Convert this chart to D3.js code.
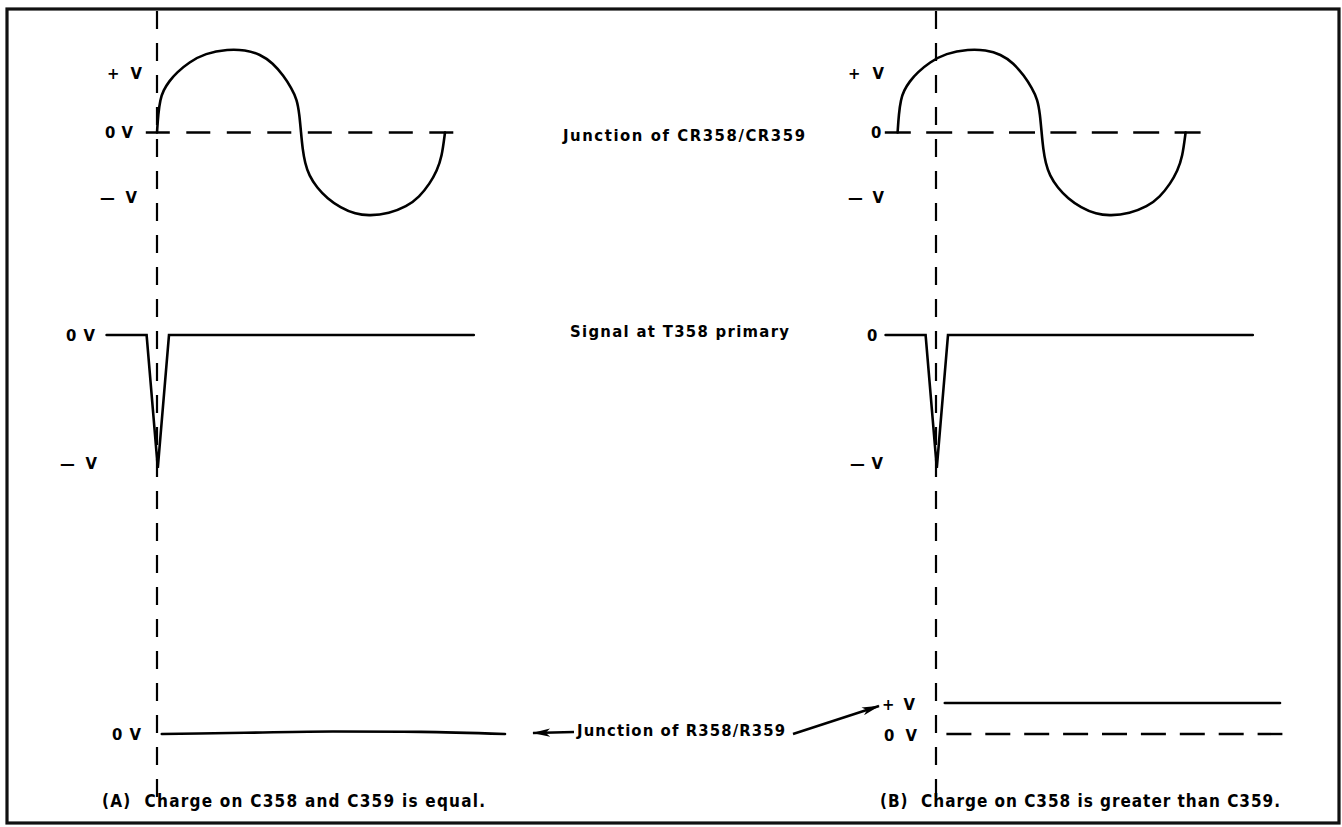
<!DOCTYPE html>
<html><head><meta charset="utf-8">
<script src="https://cdn.jsdelivr.net/npm/d3@7"></script>
<style>
body{margin:0;background:#fff}
svg{display:block}
text{font-family:"DejaVu Sans Condensed","DejaVu Sans",sans-serif;font-stretch:condensed;font-weight:700;fill:#000;font-size:16.5px;white-space:pre;font-variant-ligatures:none}
</style>
</head><body><svg id="c" width="1342" height="827"></svg>
<script>
// ---------- DATA ----------
// One cycle of the waveform at the junction of CR358/CR359 (phase in degrees, volts in units of V)
const sinePhase = [0,0,1.5,4,8,15,25,40,60,89,110,129,145,158,168,175,178,180,182,185,190,200,213,229,248,266,290,312,328,341,350,356,360,360];
const sineVolts = [0,0,0.22,0.4,0.51,0.62,0.73,0.85,0.96,1.01,1,0.95,0.84,0.69,0.54,0.4,0.22,0,-0.2,-0.37,-0.52,-0.67,-0.8,-0.91,-0.99,-1.01,-0.98,-0.9,-0.78,-0.62,-0.46,-0.3,0,0];
// time (deg, relative to the pulse instant) at which the drawn cycle starts, panel A and B
const sineStart = [0, -48];
// extent of the 0 V dashed reference of the top trace, panel A and B
const zeroRefA = [-14, 376];
const zeroRefB = [-64, 334];
// Signal at T358 primary (time deg, volts)
const pulseTime = [-63, -13, 1, 15, 396];
const pulseVolts = [0, 0, -1, 0, 0];
// Junction of R358/R359
const junctionATime = [6, 110, 220, 330, 435];
const junctionAVolts = [0, 0.04, 0.08, 0.07, 0];
const junctionBTime = [11, 430];
const junctionBVolts = [1, 1];
const junctionBRef = [13, 433];
// level labels
const topLabelsA = ["+ V", "0 V", "\u2014 V"];
const topLabelsB = ["+ V", "0", "\u2014 V"];
const topLabelVolts = [0.72, 0, -0.78];
const midLabelsA = ["0 V", "\u2014 V"];
const midLabelsB = ["0", "\u2014 V"];
const midLabelVolts = [0, -0.96];
const botLabelsA = ["0 V"];
const botLabelVoltsA = [0];
const botLabelsB = ["+ V", "0 V"];
const botLabelVoltsB = [0.95, -0.05];
const traceNames = ["Junction of CR358/CR359", "Signal at T358 primary", "Junction of R358/R359"];
const captions = ["(A)  Charge on C358 and C359 is equal.", "(B)  Charge on C358 is greater than C359."];

// ---------- LAYOUT ----------
const svg = d3.select("#c");
const pxPerDeg = 0.8;
const panels = [
  {vline: 157, start: sineStart[0], zero: zeroRefA, top: topLabelsA, mid: midLabelsA,
   topX: [107, 105, 100], topW: [35, 28, 37], midX: [66, 60], midW: [29, 37]},
  {vline: 936, start: sineStart[1], zero: zeroRefB, top: topLabelsB, mid: midLabelsB,
   topX: [848, 871, 848], topW: [36, 0, 36], midX: [867, 850], midW: [0, 33]}
];
const yTop = d3.scaleLinear().domain([-1, 1]).range([215, 50]);
const yMid = d3.scaleLinear().domain([-1, 0]).range([468, 335]);
const yBot = d3.scaleLinear().domain([0, 1]).range([734, 703]);

function label(g, s, x, y, w, size) {
  const t = g.append("text").attr("x", x).attr("y", y).attr("dy", "0.36em").text(s);
  if (size) t.style("font-size", size + "px");
  if (w) t.attr("textLength", w).attr("lengthAdjust", "spacing");
  return t;
}

// frame
svg.append("rect").attr("x", 7).attr("y", 9).attr("width", 1332).attr("height", 814)
  .attr("fill", "none").attr("stroke", "#111").attr("stroke-width", 3.2);

const solid = g => g.attr("fill", "none").attr("stroke", "#000").attr("stroke-width", 2.6)
  .attr("stroke-linejoin", "round").attr("stroke-linecap", "round");

panels.forEach((p, i) => {
  const x = d3.scaleLinear().domain([0, 100]).range([p.vline, p.vline + 100 * pxPerDeg]);
  const g = svg.append("g");

  // vertical dashed time marker
  g.append("line").attr("x1", x(0)).attr("x2", x(0)).attr("y1", 11).attr("y2", 805)
    .attr("stroke", "#000").attr("stroke-width", 2.2).attr("stroke-dasharray", "18,14");

  // top: 0 V dashed reference
  g.append("line").attr("x1", x(p.zero[0])).attr("x2", x(p.zero[1]))
    .attr("y1", yTop(0)).attr("y2", yTop(0))
    .attr("stroke", "#000").attr("stroke-width", 2.4)
    .attr("stroke-dasharray", i === 0 ? "24,16.5" : "26,15.4");

  // top: sine
  const sinePts = sinePhase.map((t, k) => [t + p.start, sineVolts[k]]);
  g.append("path").datum(sinePts).call(solid)
    .attr("d", d3.line().x(d => x(d[0])).y(d => yTop(d[1])).curve(d3.curveBasis));

  // middle: pulse
  const pulsePts = pulseTime.map((t, k) => [t, pulseVolts[k]]);
  g.append("path").datum(pulsePts).call(solid).attr("stroke-linejoin", "miter")
    .attr("d", d3.line().x(d => x(d[0])).y(d => yMid(d[1])));

  // labels top & middle
  p.top.forEach((s, k) => label(g, s, p.topX[k], yTop(topLabelVolts[k]), p.topW[k]));
  p.mid.forEach((s, k) => label(g, s, p.midX[k], yMid(midLabelVolts[k]), p.midW[k]));

  // bottom traces
  if (i === 0) {
    const pts = junctionATime.map((t, k) => [t, junctionAVolts[k]]);
    g.append("path").datum(pts).call(solid)
      .attr("d", d3.line().x(d => x(d[0])).y(d => yBot(d[1])).curve(d3.curveMonotoneX));
    botLabelsA.forEach((s, k) => label(g, s, 112, yBot(botLabelVoltsA[k]), 29));
  } else {
    const pts = junctionBTime.map((t, k) => [t, junctionBVolts[k]]);
    g.append("path").datum(pts).call(solid)
      .attr("d", d3.line().x(d => x(d[0])).y(d => yBot(d[1])));
    g.append("line").attr("x1", x(junctionBRef[0])).attr("x2", x(junctionBRef[1]))
      .attr("y1", yBot(0)).attr("y2", yBot(0))
      .attr("stroke", "#000").attr("stroke-width", 2.4).attr("stroke-dasharray", "25,13.9");
    botLabelsB.forEach((s, k) => label(g, s, k === 0 ? 882 : 884, yBot(botLabelVoltsB[k]), 33));
  }
});

// trace names
label(svg, traceNames[0], 563, 135, 242);
label(svg, traceNames[1], 570, 331, 219);
label(svg, traceNames[2], 577, 730, 208);

// arrows
const defs = svg.append("defs");
defs.append("marker").attr("id", "ah").attr("viewBox", "0 0 20 10").attr("refX", 19).attr("refY", 5)
  .attr("markerWidth", 20).attr("markerHeight", 9).attr("markerUnits", "userSpaceOnUse")
  .attr("orient", "auto")
  .append("path").attr("d", "M0,0.5 L20,5 L0,9.5 L5,5 Z").attr("fill", "#000");
svg.append("line").attr("x1", 574).attr("y1", 732).attr("x2", 533).attr("y2", 733)
  .attr("stroke", "#000").attr("stroke-width", 2.4).attr("marker-end", "url(#ah)");
svg.append("line").attr("x1", 793).attr("y1", 734).attr("x2", 879).attr("y2", 706)
  .attr("stroke", "#000").attr("stroke-width", 2.4).attr("marker-end", "url(#ah)");

// captions
label(svg, captions[0], 102, 801, 383, 17);
label(svg, captions[1], 880, 801, 400, 17);
</script>
</body></html>
